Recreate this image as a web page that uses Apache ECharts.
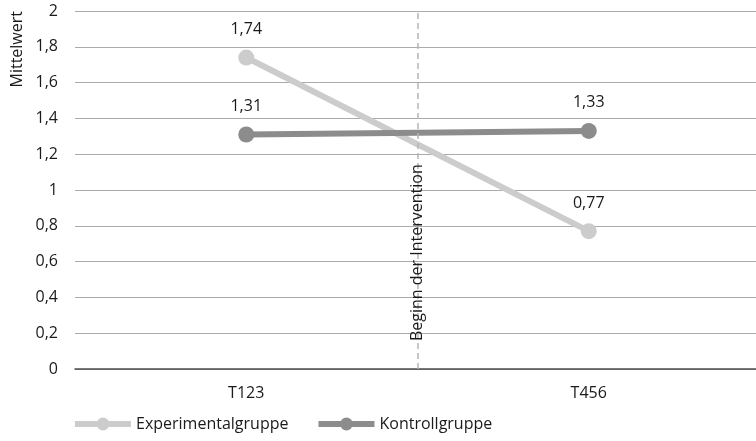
<!DOCTYPE html>
<html><head><meta charset="utf-8">
<script src="https://cdn.jsdelivr.net/npm/echarts@6/dist/echarts.min.js"></script>
<style>html,body{margin:0;padding:0;background:#fff}#c{width:756px;height:441px}</style>
</head><body><div id="c"></div>
<script>
const categories = ['T123', 'T456'];
const experimental = [1.74, 0.77];
const kontroll = [1.31, 1.33];
const seriesNames = ['Experimentalgruppe', 'Kontrollgruppe'];
const yTicks = [0, 0.2, 0.4, 0.6, 0.8, 1, 1.2, 1.4, 1.6, 1.8, 2];
const interventionLabel = 'Beginn der Intervention';
// intervention line sits on the boundary between the two category bands (band units 0..2)
const interventionPosition = [1];

const FONT = '"Open Sans", "Noto Sans", sans-serif';
const FS = 16;
const fmt = v => String(v).replace('.', ',');
const chart = echarts.init(document.getElementById('c'));
function lineSeries(name, data, color) {
  return {
    name, type: 'line', data, color,
    symbol: 'circle', symbolSize: 16,
    lineStyle: { width: 6, color },
    itemStyle: { color },
    label: { show: true, position: 'top', distance: 12, color: '#1a1a1a', fontSize: FS, fontFamily: FONT,
      formatter: p => fmt(p.value) },
    emphasis: { disabled: true }
  };
}
chart.setOption({
  animation: false,
  textStyle: { fontFamily: FONT },
  grid: { left: 75, right: -4, top: 11, bottom: 72, containLabel: false, outerBoundsMode: 'none' },
  legend: {
    bottom: 4, left: 67, itemWidth: 56, itemHeight: 16, itemGap: 27,
    lineStyle: { width: 6 },
    textStyle: { fontSize: FS, color: '#1a1a1a', fontFamily: FONT },
    data: seriesNames
  },
  xAxis: [{
    type: 'category', data: categories, boundaryGap: true,
    axisLine: { lineStyle: { color: '#4d4d4d', width: 1.5 } },
    axisTick: { show: false },
    axisLabel: { fontSize: FS, color: '#1a1a1a', margin: 16, fontFamily: FONT }
  }, {
    type: 'value', min: 0, max: categories.length, show: false, position: 'bottom',
    splitLine: { show: false }
  }],
  yAxis: {
    type: 'value', min: 0, max: 2, interval: 0.2,
    name: 'Mittelwert', nameLocation: 'end', nameRotate: 90, nameGap: 0,
    nameTextStyle: { fontSize: FS, color: '#1a1a1a', fontFamily: FONT, align: 'right', verticalAlign: 'bottom',
      padding: [0, 0, 50, 0] },
    axisLine: { show: false }, axisTick: { show: false },
    axisLabel: { fontSize: FS, color: '#1a1a1a', margin: 17, fontFamily: FONT,
      formatter: v => { const t = yTicks.find(x => Math.abs(x - v) < 1e-9); return fmt(t !== undefined ? t : v); } },
    splitLine: { lineStyle: { color: '#ababab', width: 1 } }
  },
  series: [
    lineSeries(seriesNames[0], experimental, '#cccccc'),
    lineSeries(seriesNames[1], kontroll, '#8c8c8c'),
    {
      name: 'intervention', type: 'line', xAxisIndex: 1, data: [], silent: true,
      markLine: {
        silent: true, symbol: 'none',
        lineStyle: { type: [6, 4], color: '#b5b5b5', width: 1.5 },
        label: { show: true, formatter: interventionLabel, position: 'insideStartTop', distance: [28, -8],
          fontSize: FS, color: '#1a1a1a', fontFamily: FONT },
        data: interventionPosition.map(v => ({ xAxis: v }))
      }
    }
  ]
});
</script></body></html>
